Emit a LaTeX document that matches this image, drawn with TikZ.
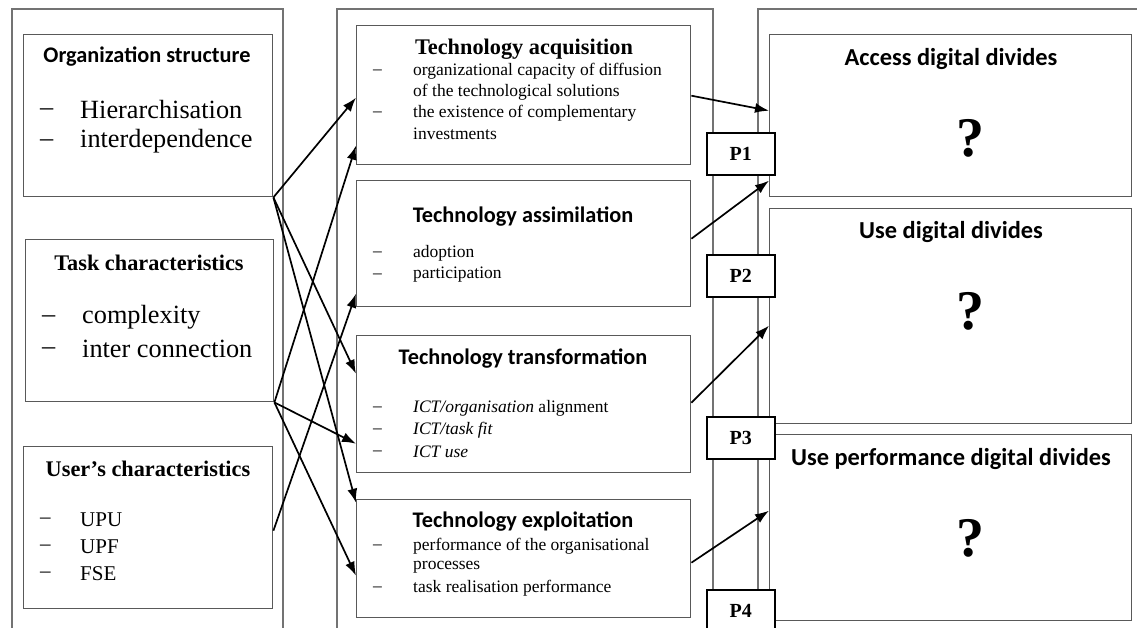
\documentclass[tikz,border=0pt]{standalone}
\usepackage{fontspec}
\setmainfont{Liberation Serif}
\newfontfamily\calib{Carlito}
\usetikzlibrary{arrows.meta}
\tikzset{
  colline/.style={draw=gray!90!black, line width=1.2pt},
  ibox/.style={draw=gray!70!black, line width=1.4pt, inner sep=0pt, anchor=north west},
  pbox/.style={draw=black, line width=1.6pt, fill=white, inner sep=0pt, minimum width=68pt, minimum height=42pt, anchor=north west, font=\fontsize{20}{22}\selectfont\bfseries},
  arr/.style={draw=black, line width=1.7pt, -{Latex[length=14pt,width=10pt]}},
  txt/.style={inner sep=0pt, anchor=west},
  ctxt/.style={inner sep=0pt, anchor=center},
  bigitem/.style={txt, font=\fontsize{26.3}{28}\selectfont},
  miditem/.style={txt, font=\fontsize{21}{23}\selectfont},
  smitem/.style={txt, font=\fontsize{17.5}{19}\selectfont},
  caltitle/.style={ctxt, font=\calib\fontsize{24.4}{26}\selectfont\bfseries},
  calmid/.style={ctxt, font=\calib\fontsize{22.3}{24}\selectfont\bfseries},
  tmtitle/.style={ctxt, font=\fontsize{22.3}{24}\selectfont\bfseries},
  qmark/.style={ctxt, font=\fontsize{56}{60}\selectfont\bfseries}
}
\begin{document}
\begin{tikzpicture}[x=1pt,y=-1pt]
\useasboundingbox (0,0) rectangle (1137,628);
\clip (0,0) rectangle (1137,628);
% outer columns
\draw[colline] (12,640) -- (12,9) -- (283,9) -- (283,640);
\draw[colline] (337,640) -- (337,9) -- (713,9) -- (713,640);
\draw[colline] (758,640) -- (758,9) -- (1150,9);
% left boxes
\node[ibox, minimum width=249pt, minimum height=162pt] (org) at (23,34) {};
\node[ibox, minimum width=248pt, minimum height=162pt] (task) at (25,239) {};
\node[ibox, minimum width=249pt, minimum height=162pt] (user) at (23,446) {};
% middle boxes
\node[ibox, minimum width=334pt, minimum height=139pt] (acq) at (356,25) {};
\node[ibox, minimum width=334pt, minimum height=126pt] (assim) at (356,180) {};
\node[ibox, minimum width=334pt, minimum height=137pt] (transf) at (356,335) {};
\node[ibox, minimum width=334pt, minimum height=118pt] (exploit) at (356,499) {};
% right boxes
\node[ibox, minimum width=362pt, minimum height=162pt] (access) at (769,34) {};
\node[ibox, minimum width=362pt, minimum height=215pt] (usebox) at (769,208) {};
\node[ibox, minimum width=362pt, minimum height=186pt] (perf) at (769,434) {};

% left texts
\node[calmid] (orgt) at (147,57) {Organization structure};
\node[bigitem] (orgd1) at (40,112) {–};
\node[bigitem] (orgi1) at (80,110) {Hierarchisation};
\node[bigitem] (orgd2) at (40,143) {–};
\node[bigitem] (orgi2) at (80,141) {interdependence};

\node[tmtitle] (taskt) at (149,263) {Task characteristics};
\node[bigitem] (taskd1) at (42,319) {–};
\node[bigitem] (taski1) at (82,317) {complexity};
\node[bigitem] (taskd2) at (42,351) {–};
\node[bigitem] (taski2) at (82,349) {inter connection};

\node[tmtitle] (usert) at (148,469) {User’s characteristics};
\node[miditem] (userd1) at (40,521) {–};
\node[miditem] (useri1) at (80,520) {UPU};
\node[miditem] (userd2) at (40,548) {–};
\node[miditem] (useri2) at (80,547) {UPF};
\node[miditem] (userd3) at (40,575) {–};
\node[miditem] (useri3) at (80,574) {FSE};

% middle texts
\node[tmtitle] (acqt) at (524,49) {Technology acquisition};
\node[smitem] (acqd1) at (373,72) {–};
\node[smitem] (acqi1) at (413,71) {organizational capacity of diffusion};
\node[smitem] (acqi1b) at (413,92) {of the technological solutions};
\node[smitem] (acqd2) at (373,114) {–};
\node[smitem] (acqi2) at (413,113) {the existence of complementary};
\node[smitem] (acqi2b) at (413,134) {investments};

\node[calmid] (assimt) at (523,217) {Technology assimilation};
\node[smitem] (assimd1) at (373,254) {–};
\node[smitem] (assimi1) at (413,253) {adoption};
\node[smitem] (assimd2) at (373,276) {–};
\node[smitem] (assimi2) at (413,275) {participation};

\node[calmid] (transft) at (523,359) {Technology transformation};
\node[smitem] (transfd1) at (373,409) {–};
\node[smitem] (transfi1) at (413,408) {\textit{ICT/organisation} alignment};
\node[smitem] (transfd2) at (373,431) {–};
\node[smitem] (transfi2) at (413,430) {\textit{ICT/task fit}};
\node[smitem] (transfd3) at (373,453) {–};
\node[smitem] (transfi3) at (413,452) {\textit{ICT use}};

\node[calmid] (exploitt) at (523,522) {Technology exploitation};
\node[smitem] (exploitd1) at (373,547) {–};
\node[smitem] (exploiti1) at (413,546) {performance of the organisational};
\node[smitem] (exploiti1b) at (413,567) {processes};
\node[smitem] (exploitd2) at (373,589) {–};
\node[smitem] (exploiti2) at (413,588) {task realisation performance};

% right texts
\node[caltitle] (accesst) at (951,59) {Access digital divides};
\node[qmark] (accessq) at (970,138) {?};
\node[caltitle] (uset) at (951,232) {Use digital divides};
\node[qmark] (useq) at (970,311) {?};
\node[caltitle] (perft) at (951,459) {Use performance digital divides};
\node[qmark] (perfq) at (970,538) {?};

% left arrows
\draw[arr] (org.south east) -- ([yshift=-2.5pt]acq.west);
\draw[arr] (org.south east) -- ([yshift=30.5pt]transf.west);
\draw[arr] (org.south east) -- ([yshift=56pt]exploit.west);
\draw[arr] (task.south east) -- ([yshift=-50.5pt]acq.west);
\draw[arr] (task.south east) -- ([yshift=-39.5pt]transf.west);
\draw[arr] (task.south east) -- ([yshift=-17pt]exploit.west);
\draw[arr] ([yshift=-3pt]user.east) -- ([yshift=-50pt]assim.west);

% right arrows
\draw[arr] ([yshift=-0.5pt]acq.east) -- ([yshift=5pt]access.west);
\draw[arr] ([yshift=5pt]assim.east) -- ([yshift=-65pt]access.west);
\draw[arr] ([yshift=1.5pt]transf.east) -- ([yshift=-9.5pt]usebox.west);
\draw[arr] ([yshift=-4pt]exploit.east) -- ([yshift=17pt]perf.west);

% P boxes
\node[pbox] (p1) at (706,132) {P1};
\node[pbox] (p2) at (706,254) {P2};
\node[pbox] (p3) at (706,416) {P3};
\node[pbox] (p4) at (706,589) {P4};
\end{tikzpicture}
\end{document}
